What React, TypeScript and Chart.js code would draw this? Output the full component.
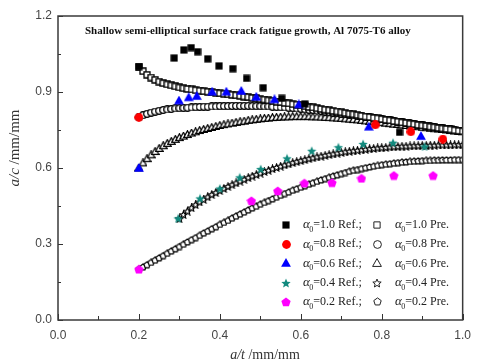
import React, { useEffect, useRef } from 'react';
import { Chart, registerables } from 'chart.js';
Chart.register(...registerables);

// ---------- Reference (experimental) data ----------
const X_REF_10 = [0.20, 0.287, 0.311, 0.329, 0.345, 0.370, 0.398, 0.432, 0.466, 0.507, 0.553, 0.610, 0.844];
const Y_REF_10 = [1.000, 1.034, 1.066, 1.075, 1.059, 1.031, 1.003, 0.992, 0.954, 0.917, 0.875, 0.853, 0.741];

const X_REF_08 = [0.20, 0.784, 0.872, 0.951];
const Y_REF_08 = [0.800, 0.770, 0.743, 0.714];

const X_REF_06 = [0.20, 0.299, 0.323, 0.343, 0.381, 0.416, 0.453, 0.490, 0.535, 0.595, 0.768, 0.897];
const Y_REF_06 = [0.600, 0.866, 0.879, 0.884, 0.901, 0.901, 0.904, 0.881, 0.871, 0.851, 0.763, 0.726];

const X_REF_04 = [0.297, 0.351, 0.400, 0.449, 0.501, 0.566, 0.627, 0.693, 0.754, 0.828, 0.906];
const Y_REF_04 = [0.401, 0.480, 0.519, 0.563, 0.596, 0.638, 0.668, 0.682, 0.695, 0.700, 0.685];

const X_REF_02 = [0.20, 0.478, 0.543, 0.609, 0.677, 0.750, 0.830, 0.927];
const Y_REF_02 = [0.200, 0.470, 0.509, 0.540, 0.542, 0.559, 0.570, 0.570];

// ---------- Prediction curves ----------
const X_PRE = [
  0.20, 0.21, 0.22, 0.23, 0.24, 0.25, 0.26, 0.27, 0.28, 0.29,
  0.30, 0.31, 0.32, 0.33, 0.34, 0.35, 0.36, 0.37, 0.38, 0.39,
  0.40, 0.41, 0.42, 0.43, 0.44, 0.45, 0.46, 0.47, 0.48, 0.49,
  0.50, 0.51, 0.52, 0.53, 0.54, 0.55, 0.56, 0.57, 0.58, 0.59,
  0.60, 0.61, 0.62, 0.63, 0.64, 0.65, 0.66, 0.67, 0.68, 0.69,
  0.70, 0.71, 0.72, 0.73, 0.74, 0.75, 0.76, 0.77, 0.78, 0.79,
  0.80, 0.81, 0.82, 0.83, 0.84, 0.85, 0.86, 0.87, 0.88, 0.89,
  0.90, 0.91, 0.92, 0.93, 0.94, 0.95, 0.96, 0.97, 0.98, 0.99,
  1.00,
];
const X_PRE_04 = X_PRE.slice(10);

const Y_PRE_10 = [
  1.000, 0.982, 0.968, 0.957, 0.948, 0.941, 0.935, 0.930, 0.926, 0.922,
  0.918, 0.915, 0.912, 0.910, 0.907, 0.905, 0.903, 0.901, 0.899, 0.897,
  0.895, 0.893, 0.891, 0.889, 0.887, 0.885, 0.882, 0.880, 0.877, 0.875,
  0.872, 0.870, 0.867, 0.865, 0.862, 0.860, 0.857, 0.855, 0.852, 0.850,
  0.847, 0.844, 0.841, 0.839, 0.836, 0.833, 0.830, 0.828, 0.825, 0.823,
  0.820, 0.817, 0.814, 0.812, 0.809, 0.806, 0.803, 0.801, 0.798, 0.796,
  0.793, 0.790, 0.788, 0.785, 0.783, 0.780, 0.778, 0.775, 0.773, 0.770,
  0.768, 0.766, 0.763, 0.761, 0.758, 0.756, 0.754, 0.752, 0.749, 0.747,
  0.745,
];
const Y_PRE_08 = [
  0.800, 0.808, 0.814, 0.819, 0.823, 0.826, 0.829, 0.831, 0.833, 0.835,
  0.836, 0.837, 0.838, 0.839, 0.840, 0.841, 0.842, 0.842, 0.843, 0.843,
  0.844, 0.844, 0.844, 0.845, 0.845, 0.845, 0.845, 0.845, 0.844, 0.844,
  0.844, 0.843, 0.843, 0.842, 0.841, 0.840, 0.839, 0.838, 0.837, 0.835,
  0.834, 0.832, 0.830, 0.829, 0.827, 0.825, 0.823, 0.821, 0.819, 0.817,
  0.815, 0.813, 0.811, 0.808, 0.806, 0.804, 0.802, 0.800, 0.797, 0.795,
  0.793, 0.791, 0.788, 0.786, 0.783, 0.781, 0.779, 0.776, 0.774, 0.771,
  0.769, 0.767, 0.764, 0.762, 0.759, 0.757, 0.755, 0.752, 0.750, 0.747,
  0.745,
];
const Y_PRE_06 = [
  0.600, 0.620, 0.637, 0.652, 0.665, 0.677, 0.688, 0.697, 0.705, 0.713,
  0.720, 0.726, 0.732, 0.738, 0.743, 0.748, 0.752, 0.756, 0.760, 0.764,
  0.768, 0.771, 0.774, 0.777, 0.780, 0.783, 0.785, 0.788, 0.790, 0.792,
  0.794, 0.796, 0.797, 0.799, 0.800, 0.801, 0.802, 0.802, 0.803, 0.803,
  0.803, 0.803, 0.803, 0.802, 0.802, 0.801, 0.800, 0.799, 0.798, 0.797,
  0.796, 0.794, 0.793, 0.791, 0.790, 0.788, 0.786, 0.784, 0.783, 0.781,
  0.779, 0.777, 0.775, 0.773, 0.772, 0.770, 0.768, 0.766, 0.764, 0.763,
  0.761, 0.759, 0.757, 0.755, 0.754, 0.752, 0.750, 0.748, 0.746, 0.745,
  0.743,
];
const Y_PRE_04 = [
  0.400, 0.416, 0.430, 0.443, 0.455, 0.466, 0.476, 0.486, 0.495, 0.503,
  0.511, 0.519, 0.527, 0.534, 0.541, 0.548, 0.555, 0.562, 0.568, 0.574,
  0.580, 0.586, 0.591, 0.597, 0.602, 0.607, 0.612, 0.616, 0.621, 0.625,
  0.629, 0.633, 0.637, 0.640, 0.644, 0.647, 0.650, 0.653, 0.656, 0.659,
  0.661, 0.664, 0.666, 0.668, 0.670, 0.672, 0.674, 0.676, 0.677, 0.679,
  0.680, 0.681, 0.683, 0.684, 0.685, 0.686, 0.686, 0.687, 0.688, 0.688,
  0.689, 0.689, 0.690, 0.690, 0.691, 0.691, 0.691, 0.691, 0.692, 0.692,
  0.692,
];
const Y_PRE_02 = [
  0.200, 0.209, 0.218, 0.227, 0.236, 0.245, 0.254, 0.263, 0.272, 0.281,
  0.290, 0.299, 0.308, 0.317, 0.325, 0.334, 0.343, 0.351, 0.360, 0.368,
  0.377, 0.385, 0.393, 0.402, 0.410, 0.418, 0.426, 0.434, 0.442, 0.449,
  0.457, 0.464, 0.471, 0.478, 0.485, 0.492, 0.499, 0.505, 0.512, 0.518,
  0.524, 0.530, 0.536, 0.542, 0.547, 0.553, 0.558, 0.563, 0.568, 0.573,
  0.578, 0.582, 0.587, 0.591, 0.594, 0.598, 0.601, 0.604, 0.607, 0.610,
  0.613, 0.615, 0.617, 0.619, 0.621, 0.623, 0.624, 0.626, 0.627, 0.628,
  0.629, 0.630, 0.630, 0.631, 0.631, 0.632, 0.632, 0.632, 0.633, 0.633,
  0.633,
];

// ---------- Labels / ticks ----------
const ALPHA_LABELS = ['1.0', '0.8', '0.6', '0.4', '0.2'];
const TITLE = 'Shallow semi-elliptical surface crack fatigue growth, Al 7075-T6 alloy';
const X_MINOR_TICKS = [0, 0.1, 0.2, 0.3, 0.4, 0.5, 0.6, 0.7, 0.8, 0.9, 1.0];
const Y_MINOR_TICKS = [0, 0.15, 0.3, 0.45, 0.6, 0.75, 0.9, 1.05, 1.2];

type Shape = 'square' | 'circle' | 'triangle' | 'star' | 'pentagon';

function makeMarker(shape: Shape, size: number, fill: string | null, stroke: string | null, lw = 1): HTMLCanvasElement {
  const c = document.createElement('canvas');
  c.width = size;
  c.height = size;
  const ctx = c.getContext('2d')!;
  const cx = size / 2;
  const cy = size / 2;
  const R = size / 2 - (stroke ? lw / 2 : 0) - 0.1;
  ctx.beginPath();
  if (shape === 'square') {
    const h = R * 0.92;
    ctx.rect(cx - h, cy - h, 2 * h, 2 * h);
  } else if (shape === 'circle') {
    ctx.arc(cx, cy, R, 0, Math.PI * 2);
  } else if (shape === 'triangle') {
    const top = cy - R;
    const bot = cy + R * 0.78;
    ctx.moveTo(cx, top);
    ctx.lineTo(cx + R, bot);
    ctx.lineTo(cx - R, bot);
    ctx.closePath();
  } else {
    const n = shape === 'star' ? 10 : 5;
    const off = shape === 'star' ? R * 0.1 : R * 0.08;
    for (let i = 0; i < n; i++) {
      const a = -Math.PI / 2 + (i * 2 * Math.PI) / n;
      const r = shape === 'star' && i % 2 === 1 ? R * 0.45 : R;
      const px = cx + r * Math.cos(a);
      const py = cy + off + r * Math.sin(a);
      if (i === 0) ctx.moveTo(px, py);
      else ctx.lineTo(px, py);
    }
    ctx.closePath();
  }
  if (fill) {
    ctx.fillStyle = fill;
    ctx.fill();
  }
  if (stroke) {
    ctx.strokeStyle = stroke;
    ctx.lineWidth = lw;
    ctx.stroke();
  }
  return c;
}

const SERIF = '"Liberation Serif", "Times New Roman", serif';
const SANS = '"Liberation Sans", Arial, sans-serif';

export default function App() {
  const ref = useRef<HTMLCanvasElement | null>(null);

  useEffect(() => {
    if (!ref.current) return;

    const refMarkers = [
      makeMarker('square', 8, '#000000', null),
      makeMarker('circle', 9, '#ff0000', null),
      makeMarker('triangle', 10, '#0000ff', null),
      makeMarker('star', 10, '#128a7e', null),
      makeMarker('pentagon', 10, '#ff00ff', null),
    ];
    const preMarkers = [
      makeMarker('square', 8, '#ffffff', '#000000', 1.3),
      makeMarker('circle', 8, '#ffffff', '#000000', 1.2),
      makeMarker('triangle', 9, '#ffffff', '#000000', 1.3),
      makeMarker('star', 9, '#ffffff', '#000000', 1.2),
      makeMarker('pentagon', 8, '#ffffff', '#000000', 1.2),
    ];
    const legendPre = [
      makeMarker('square', 8, '#ffffff', '#222222', 1),
      makeMarker('circle', 9, '#ffffff', '#222222', 1),
      makeMarker('triangle', 10, '#ffffff', '#222222', 1),
      makeMarker('star', 10, '#ffffff', '#222222', 1),
      makeMarker('pentagon', 9, '#ffffff', '#222222', 1),
    ];

    const refX = [X_REF_10, X_REF_08, X_REF_06, X_REF_04, X_REF_02];
    const refY = [Y_REF_10, Y_REF_08, Y_REF_06, Y_REF_04, Y_REF_02];
    const preX = [X_PRE, X_PRE, X_PRE, X_PRE_04, X_PRE];
    const preY = [Y_PRE_10, Y_PRE_08, Y_PRE_06, Y_PRE_04, Y_PRE_02];

    const datasets: any[] = [];
    for (let i = 0; i < 5; i++) {
      datasets.push({
        label: `α0=${ALPHA_LABELS[i]} Ref.`,
        data: refX[i].map((x, k) => ({ x, y: refY[i][k] })),
        pointStyle: refMarkers[i],
        pointRadius: 4,
        showLine: false,
      });
    }
    for (let i = 0; i < 5; i++) {
      datasets.push({
        label: `α0=${ALPHA_LABELS[i]} Pre.`,
        data: preX[i].map((x, k) => ({ x, y: preY[i][k] })),
        pointStyle: preMarkers[i],
        pointRadius: 4,
        showLine: false,
      });
    }

    const deco = {
      id: 'deco',
      afterDraw(chart: any) {
        const ctx = chart.ctx as CanvasRenderingContext2D;
        const { left, right, top, bottom } = chart.chartArea;
        const xs = chart.scales.x;
        const ys = chart.scales.y;
        ctx.save();

        // inner ticks
        ctx.strokeStyle = '#333333';
        ctx.lineWidth = 1;
        ctx.beginPath();
        X_MINOR_TICKS.forEach((v, i) => {
          const px = Math.round(xs.getPixelForValue(v)) + 0.5;
          const len = i % 2 === 0 ? 6 : 4;
          ctx.moveTo(px, bottom);
          ctx.lineTo(px, bottom - len);
        });
        Y_MINOR_TICKS.forEach((v, i) => {
          const py = Math.round(ys.getPixelForValue(v)) + 0.5;
          const len = i % 2 === 0 ? 5 : 3;
          ctx.moveTo(left, py);
          ctx.lineTo(left + len, py);
        });
        ctx.stroke();

        // border
        ctx.strokeStyle = '#3a3a3a';
        ctx.lineWidth = 1.5;
        ctx.strokeRect(left, top, right - left, bottom - top);

        // title
        ctx.fillStyle = '#111111';
        ctx.font = `bold 11px ${SERIF}`;
        ctx.textBaseline = 'middle';
        ctx.textAlign = 'left';
        ctx.fillText(TITLE, 85, 31);

        // legend
        const rowY = [225, 244.2, 263.4, 282.6, 301.8];
        const drawLabel = (x: number, y: number, val: string, suffix: string) => {
          ctx.fillStyle = '#222222';
          ctx.textBaseline = 'middle';
          ctx.font = `italic 13px ${SERIF}`;
          ctx.fillText('α', x, y);
          let cx = x + ctx.measureText('α').width;
          ctx.font = `8px ${SERIF}`;
          ctx.fillText('0', cx - 0.5, y + 5);
          cx += ctx.measureText('0').width - 0.5;
          ctx.font = `12px ${SERIF}`;
          ctx.fillText(`=${val} ${suffix}`, cx, y);
        };
        for (let i = 0; i < 5; i++) {
          const y = rowY[i];
          const m1 = refMarkers[i];
          ctx.drawImage(m1, Math.round(286 - m1.width / 2), Math.round(y - m1.height / 2));
          drawLabel(303, y, ALPHA_LABELS[i], 'Ref.;');
          const m2 = legendPre[i];
          ctx.drawImage(m2, Math.round(377 - m2.width / 2), Math.round(y - m2.height / 2));
          drawLabel(395, y, ALPHA_LABELS[i], 'Pre.');
        }

        // axis titles
        const drawAxisTitle = (it: string, rest: string, size: number) => {
          ctx.font = `italic ${size}px ${SERIF}`;
          const w1 = ctx.measureText(it).width;
          ctx.font = `${size}px ${SERIF}`;
          const w2 = ctx.measureText(rest).width;
          const start = -(w1 + w2) / 2;
          ctx.textAlign = 'left';
          ctx.textBaseline = 'middle';
          ctx.fillStyle = '#333333';
          ctx.font = `italic ${size}px ${SERIF}`;
          ctx.fillText(it, start, 0);
          ctx.font = `${size}px ${SERIF}`;
          ctx.fillText(rest, start + w1, 0);
        };
        ctx.save();
        ctx.translate(265, 355);
        drawAxisTitle('a/t', ' /mm/mm', 14);
        ctx.restore();
        ctx.save();
        ctx.translate(15, 148);
        ctx.rotate(-Math.PI / 2);
        drawAxisTitle('a/c', ' /mm/mm', 15);
        ctx.restore();

        ctx.restore();
      },
    };

    const chart = new Chart(ref.current, {
      type: 'scatter',
      data: { datasets },
      options: {
        animation: false,
        responsive: false,
        devicePixelRatio: 1,
        events: [],
        layout: { padding: { top: 16, right: 7, left: 0, bottom: 0 } },
        plugins: {
          legend: { display: false },
          tooltip: { enabled: false },
          title: { display: false },
        },
        scales: {
          x: {
            type: 'linear',
            min: 0,
            max: 1,
            grid: { display: false, drawTicks: false },
            border: { display: false },
            ticks: {
              stepSize: 0.2,
              padding: 8,
              color: '#444444',
              font: { family: SANS, size: 12 },
              callback: (v: any) => Number(v).toFixed(1),
            },
            afterFit: (s: any) => {
              s.height = 42;
            },
          },
          y: {
            type: 'linear',
            min: 0,
            max: 1.2,
            grid: { display: false, drawTicks: false },
            border: { display: false },
            ticks: {
              stepSize: 0.3,
              padding: 6,
              color: '#444444',
              font: { family: SANS, size: 12 },
              callback: (v: any) => Number(v).toFixed(1),
            },
            afterFit: (s: any) => {
              s.width = 58;
            },
          },
        },
      } as any,
      plugins: [deco],
    });

    return () => chart.destroy();
  }, []);

  return (
    <div style={{ position: 'fixed', left: 0, top: 0, width: 479, height: 362, background: '#ffffff' }}>
      <canvas ref={ref} width={479} height={362} style={{ display: 'block' }} />
    </div>
  );
}
